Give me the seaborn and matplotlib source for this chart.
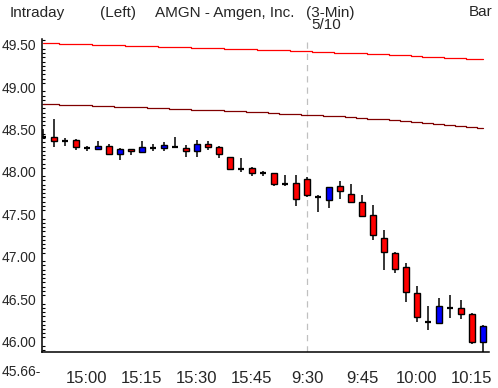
import matplotlib
matplotlib.use("Agg")
import matplotlib.pyplot as plt
from matplotlib.ticker import MultipleLocator, FixedLocator, FixedFormatter
import numpy as np
import pandas as pd
import seaborn as sns

# 3-minute bars, previous afternoon then 5/10 morning
bar_times = ["14:48", "14:51", "14:54", "14:57", "15:00", "15:03", "15:06", "15:09",
             "15:12", "15:15", "15:18", "15:21", "15:24", "15:27", "15:30", "15:33",
             "15:36", "15:39", "15:42", "15:45", "15:48", "15:51", "15:54", "15:57",
             "9:30", "9:33", "9:36", "9:39", "9:42", "9:45", "9:48", "9:51",
             "9:54", "9:57", "10:00", "10:03", "10:06", "10:09", "10:12", "10:15", "10:18"]

opens = [48.41, 48.41, 48.365, 48.38, 48.28, 48.275, 48.305, 48.21,
         48.27, 48.24, 48.285, 48.285, 48.30, 48.285, 48.245, 48.325,
         48.30, 48.18, 48.035, 48.045, 47.985, 47.985, 47.86, 47.865,
         47.92, 47.71, 47.665, 47.835, 47.74, 47.645, 47.49, 47.22,
         47.04, 46.875, 46.58, 46.235, 46.225, 46.395, 46.395, 46.325, 46.00]
highs = [48.51, 48.62, 48.40, 48.39, 48.31, 48.365, 48.33, 48.285,
         48.27, 48.365, 48.33, 48.355, 48.41, 48.32, 48.375, 48.365,
         48.31, 48.18, 48.165, 48.06, 48.01, 47.99, 47.965, 47.965,
         47.94, 47.73, 47.82, 47.895, 47.86, 47.73, 47.61, 47.315,
         47.055, 46.925, 46.655, 46.42, 46.515, 46.55, 46.49, 46.34, 46.195]
lows = [48.40, 48.30, 48.31, 48.26, 48.25, 48.255, 48.21, 48.145,
        48.205, 48.225, 48.25, 48.25, 48.28, 48.175, 48.175, 48.255,
        48.16, 48.02, 48.005, 47.955, 47.955, 47.84, 47.83, 47.595,
        47.71, 47.53, 47.57, 47.68, 47.64, 47.465, 47.195, 46.845,
        46.815, 46.47, 46.235, 46.14, 46.21, 46.285, 46.27, 45.975, 45.88]
closes = [48.41, 48.37, 48.365, 48.29, 48.28, 48.305, 48.215, 48.27,
          48.245, 48.29, 48.285, 48.32, 48.30, 48.245, 48.325, 48.30,
          48.21, 48.03, 48.035, 47.99, 47.985, 47.855, 47.86, 47.68,
          47.725, 47.71, 47.82, 47.775, 47.65, 47.48, 47.255, 47.055,
          46.855, 46.59, 46.29, 46.235, 46.42, 46.395, 46.325, 46.00, 46.185]

upper_band = [49.516, 49.516, 49.504, 49.504, 49.504, 49.493, 49.493, 49.493,
              49.481, 49.481, 49.481, 49.469, 49.469, 49.469, 49.457, 49.457,
              49.457, 49.446, 49.446, 49.446, 49.434, 49.434, 49.434, 49.422,
              49.422, 49.410, 49.410, 49.398, 49.398, 49.398, 49.387, 49.387,
              49.375, 49.375, 49.363, 49.351, 49.351, 49.340, 49.340, 49.328, 49.328]
lower_band = [48.797, 48.797, 48.786, 48.786, 48.786, 48.774, 48.774, 48.762,
              48.762, 48.762, 48.750, 48.750, 48.738, 48.738, 48.727, 48.727,
              48.727, 48.715, 48.715, 48.703, 48.703, 48.691, 48.680, 48.680,
              48.668, 48.668, 48.656, 48.656, 48.644, 48.632, 48.621, 48.621,
              48.609, 48.597, 48.585, 48.574, 48.562, 48.550, 48.538, 48.526, 48.515]

tick_labels = ["15:00", "15:15", "15:30", "15:45", "9:30", "9:45", "10:00", "10:15"]
session_break = "9:30"
low_label = "45.66-"

df = pd.DataFrame({"time": bar_times, "open": opens, "high": highs,
                   "low": lows, "close": closes,
                   "upper": upper_band, "lower": lower_band})
df["idx"] = np.arange(len(df))

sns.set_style("white")
plt.rcParams["font.family"] = ["Liberation Sans", "DejaVu Sans"]

fig = plt.figure(figsize=(4.98, 3.88), dpi=100)
ax = fig.add_axes([42 / 498, 1 - 352 / 388, 447 / 498, 313 / 388])

# bands
sns.lineplot(data=df, x="idx", y="upper", ax=ax, color="#ff0000", lw=0.9,
             drawstyle="steps-mid", zorder=2)
sns.lineplot(data=df, x="idx", y="lower", ax=ax, color="#800000", lw=0.9,
             drawstyle="steps-mid", zorder=2)

# session break
brk = df.loc[df["time"] == session_break, "idx"].iloc[0]
ax.axvline(brk, color="#c0c0c0", lw=0.9, ls=(0, (5, 4)), zorder=1)

# candles
ax.vlines(df["idx"], df["low"], df["high"], color="black", lw=1.1, zorder=3)
body = df[(df["close"] - df["open"]).abs() > 0.004]
doji = df[(df["close"] - df["open"]).abs() <= 0.004]
colors = np.where(body["close"] > body["open"], "#0000ff", "#ff0000")
ax.bar(body["idx"], (body["close"] - body["open"]).abs(),
       bottom=np.minimum(body["open"], body["close"]), width=0.5,
       color=colors, edgecolor="black", linewidth=1.0, zorder=4)
ax.hlines(doji["open"], doji["idx"] - 0.3, doji["idx"] + 0.3,
          color="black", lw=1.6, zorder=4)

ax.set_xlim(-0.09, 40.55)
ax.set_ylim(45.879, 49.567)

tick_pos = [df.loc[df["time"] == t, "idx"].iloc[0] for t in tick_labels]
ax.xaxis.set_major_locator(FixedLocator(tick_pos))
ax.xaxis.set_major_formatter(FixedFormatter(tick_labels))
ax.yaxis.set_major_locator(MultipleLocator(0.5))
ax.yaxis.set_minor_locator(MultipleLocator(0.05))
ax.yaxis.set_major_formatter(matplotlib.ticker.FormatStrFormatter("%.2f"))

ax.tick_params(axis="x", which="major", direction="out", length=4.5, width=1,
               pad=9, labelsize=12, color="black")
for lab in ax.get_xticklabels():
    lab.set_family(["Liberation Sans Narrow", "Liberation Sans", "DejaVu Sans"])
ax.tick_params(axis="y", which="major", direction="out", length=3.5, width=1,
               pad=0.5, labelsize=10, color="black")
ax.tick_params(axis="y", which="minor", direction="in", length=2.2, width=0.8,
               color="black", left=True)
ax.set_xlabel("")
ax.set_ylabel("")

for side in ["top", "right"]:
    ax.spines[side].set_visible(False)
for side in ["left", "bottom"]:
    ax.spines[side].set_color("black")
    ax.spines[side].set_linewidth(1.1)

# header texts
hy = 1 - 12.5 / 388
fig.text(10 / 498, hy, "Intraday", fontsize=11, va="center", ha="left")
fig.text(100 / 498, hy, "(Left)", fontsize=11, va="center", ha="left")
fig.text(155 / 498, hy, "AMGN - Amgen, Inc.", fontsize=11, va="center", ha="left")
fig.text(306 / 498, hy, "(3-Min)", fontsize=11, va="center", ha="left")
fig.text(492 / 498, hy, "Bar", fontsize=11, va="center", ha="right")
fig.text(326 / 498, 1 - 25 / 388, "5/10", fontsize=11, va="center", ha="center")
fig.text(2 / 498, 1 - 372.5 / 388, low_label, fontsize=10, va="center", ha="left")

fig.savefig("out.png", dpi=100)
